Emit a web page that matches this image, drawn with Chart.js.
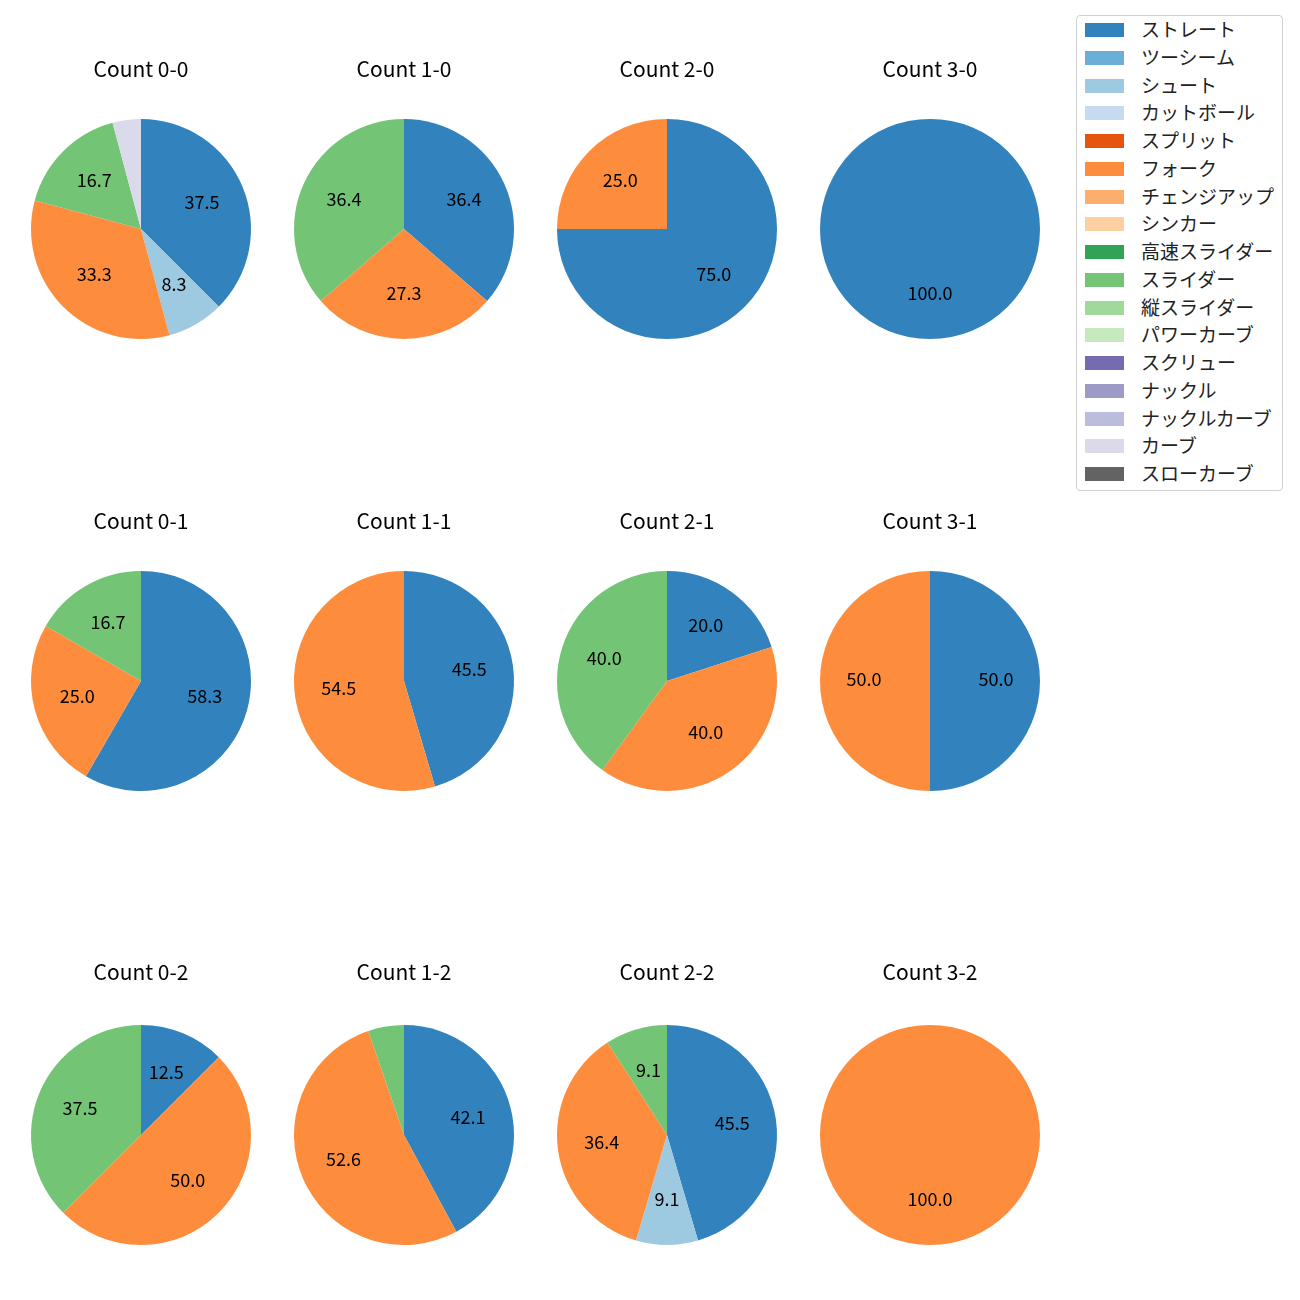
<!DOCTYPE html>
<html>
<head>
<meta charset="utf-8">
<script src="https://cdn.jsdelivr.net/npm/chart.js@4"></script>
<style>
  body { margin: 0; background: #fff; font-family: "Noto Sans CJK JP", sans-serif; }
  #wrap { position: relative; width: 1300px; height: 1300px; }
  .pie { position: absolute; }
  #legend {
    position: absolute; left: 1076px; top: 15px; width: 205px; height: 474px;
    border: 1px solid #d0d0d0; border-radius: 4px; box-sizing: content-box;
  }
  .item { position: absolute; left: 0; height: 20px; font-size: 19px; color: #222; white-space: nowrap; }
  .item .sw { position: absolute; left: 8px; top: 3px; width: 39px; height: 14px; }
  .item .tx { position: absolute; left: 64px; top: -4px; line-height: 26px; }
</style>
</head>
<body>
<div id="wrap">
  <div id="legend"></div>
</div>
<script>
const pitchTypes = ['ストレート', 'ツーシーム', 'シュート', 'カットボール', 'スプリット', 'フォーク',
  'チェンジアップ', 'シンカー', '高速スライダー', 'スライダー', '縦スライダー', 'パワーカーブ',
  'スクリュー', 'ナックル', 'ナックルカーブ', 'カーブ', 'スローカーブ'];
const pitchColors = ['#3182bd', '#6baed6', '#9ecae1', '#c6dbef', '#e6550d', '#fd8d3c',
  '#fdae6b', '#fdd0a2', '#31a354', '#74c476', '#a1d99b', '#c7e9c0',
  '#756bb1', '#9e9ac8', '#bcbddc', '#dadaeb', '#636363'];

const counts = ['0-0', '1-0', '2-0', '3-0', '0-1', '1-1', '2-1', '3-1', '0-2', '1-2', '2-2', '3-2'];

// pitches per count, in pitchTypes order
//                 Str Two Sht Cut Spl Frk Chg Snk HSl Sld VSl PCv Scr Knu KCv Crv SCv
const count00 = [  9,  0,  2,  0,  0,  8,  0,  0,  0,  4,  0,  0,  0,  0,  0,  1,  0];
const count10 = [  4,  0,  0,  0,  0,  3,  0,  0,  0,  4,  0,  0,  0,  0,  0,  0,  0];
const count20 = [  3,  0,  0,  0,  0,  1,  0,  0,  0,  0,  0,  0,  0,  0,  0,  0,  0];
const count30 = [  1,  0,  0,  0,  0,  0,  0,  0,  0,  0,  0,  0,  0,  0,  0,  0,  0];
const count01 = [  7,  0,  0,  0,  0,  3,  0,  0,  0,  2,  0,  0,  0,  0,  0,  0,  0];
const count11 = [  5,  0,  0,  0,  0,  6,  0,  0,  0,  0,  0,  0,  0,  0,  0,  0,  0];
const count21 = [  1,  0,  0,  0,  0,  2,  0,  0,  0,  2,  0,  0,  0,  0,  0,  0,  0];
const count31 = [  1,  0,  0,  0,  0,  1,  0,  0,  0,  0,  0,  0,  0,  0,  0,  0,  0];
const count02 = [  1,  0,  0,  0,  0,  4,  0,  0,  0,  3,  0,  0,  0,  0,  0,  0,  0];
const count12 = [  8,  0,  0,  0,  0, 10,  0,  0,  0,  1,  0,  0,  0,  0,  0,  0,  0];
const count22 = [  5,  0,  1,  0,  0,  4,  0,  0,  0,  1,  0,  0,  0,  0,  0,  0,  0];
const count32 = [  0,  0,  0,  0,  0,  1,  0,  0,  0,  0,  0,  0,  0,  0,  0,  0,  0];
const countData = [count00, count10, count20, count30, count01, count11, count21, count31,
  count02, count12, count22, count32];

const colCenters = [141, 404, 667, 930];
const rowCenters = [229, 681, 1135];
const titleOffsets = [173, 173, 176];

// percent labels like matplotlib autopct, at 0.6 of the radius
const pctLabels = {
  id: 'pctLabels',
  afterDatasetsDraw(chart) {
    const ctx = chart.ctx;
    const meta = chart.getDatasetMeta(0);
    const vals = chart.data.datasets[0].data;
    const total = vals.reduce((a, b) => a + b, 0);
    ctx.save();
    ctx.font = '18px "Noto Sans CJK JP"';
    ctx.fillStyle = '#000';
    ctx.textAlign = 'center';
    ctx.textBaseline = 'middle';
    meta.data.forEach((arc, i) => {
      const pct = vals[i] / total * 100;
      if (pct < 7) return;
      const mid = (arc.startAngle + arc.endAngle) / 2;
      const r = arc.outerRadius * 0.6;
      ctx.fillText(pct.toFixed(1), arc.x + Math.cos(mid) * r, arc.y + Math.sin(mid) * r - 2);
    });
    ctx.restore();
  }
};

const wrap = document.getElementById('wrap');
const W = 260;

counts.forEach((c, k) => {
  const cx = colCenters[k % 4];
  const row = Math.floor(k / 4);
  const cy = rowCenters[row];
  const off = titleOffsets[row];
  const H = off + 121;
  const cv = document.createElement('canvas');
  cv.className = 'pie';
  cv.width = W; cv.height = H;
  cv.style.width = W + 'px'; cv.style.height = H + 'px';
  cv.style.left = (cx - W / 2) + 'px';
  cv.style.top = (cy - off) + 'px';
  wrap.appendChild(cv);

  new Chart(cv, {
    type: 'pie',
    data: {
      labels: pitchTypes,
      datasets: [{
        data: countData[k],
        backgroundColor: pitchColors,
        borderWidth: 0
      }]
    },
    options: {
      responsive: false,
      animation: false,
      radius: 110,
      layout: { padding: 0 },
      plugins: {
        legend: { display: false },
        tooltip: { enabled: false },
        title: {
          display: true,
          text: 'Count ' + c,
          color: '#000',
          font: { family: '"Noto Sans CJK JP"', size: 21, weight: 'normal', lineHeight: 1.2 },
          padding: { top: 0, bottom: off - 25.2 - 121 }
        }
      }
    },
    plugins: [pctLabels]
  });
});

// legend
const legend = document.getElementById('legend');
pitchTypes.forEach((p, i) => {
  const it = document.createElement('div');
  it.className = 'item';
  it.style.top = (4 + i * 27.75) + 'px';
  it.innerHTML = '<span class="sw" style="background:' + pitchColors[i] + '"></span><span class="tx">' + p + '</span>';
  legend.appendChild(it);
});
</script>
</body>
</html>
